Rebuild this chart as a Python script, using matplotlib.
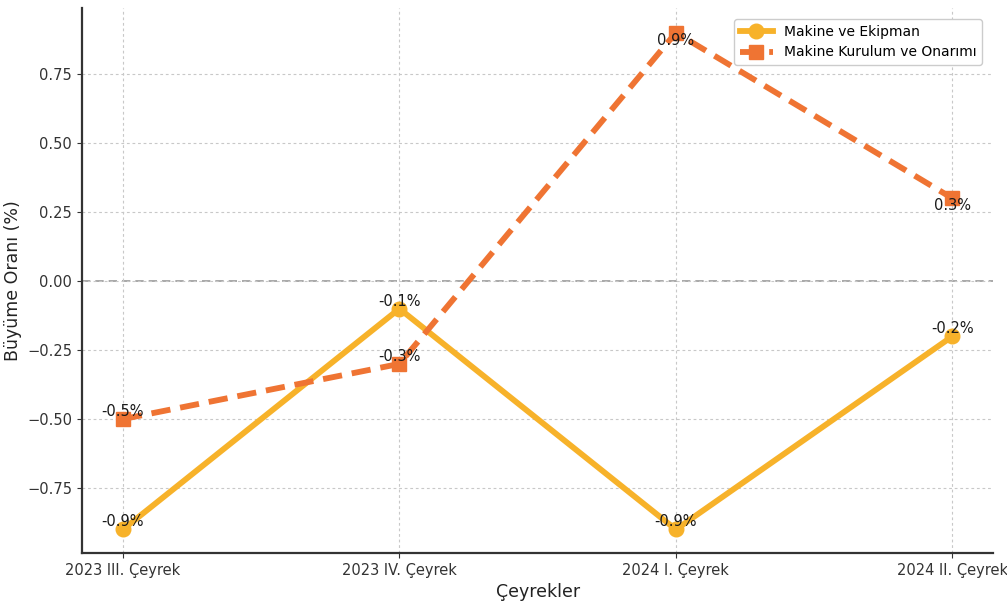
import numpy as np
import matplotlib
matplotlib.use('Agg')
import matplotlib.pyplot as plt

quarters = ['2023 III. Çeyrek', '2023 IV. Çeyrek', '2024 I. Çeyrek', '2024 II. Çeyrek']
ekipman = [-0.9, -0.1, -0.9, -0.2]
kurulum = [-0.5, -0.3, 0.9, 0.3]

c_ekipman = '#F7B22A'
c_kurulum = '#EF7433'

fig = plt.figure(figsize=(10.07, 6.03), dpi=100)
ax = fig.add_axes([0.0814, 0.083, 0.905, 0.904])

x = np.arange(len(quarters))
ax.plot(x, ekipman, color=c_ekipman, lw=4.2, marker='o', ms=10.5, label='Makine ve Ekipman', zorder=3)
ax.plot(x, kurulum, color=c_kurulum, lw=4.2, ls='--', dashes=(3.3, 1.7), marker='s', ms=10,
        label='Makine Kurulum ve Onarımı', zorder=3)

# value labels
for xs, ys in [(x, ekipman), (x, kurulum)]:
    for xi, yi in zip(xs, ys):
        va = 'top' if yi > 0 else 'bottom'
        ax.text(xi, yi, f'{yi}%', ha='center', va=va, fontsize=10.5, color='#1a1a1a', zorder=4)

ax.axhline(0, color='#999999', lw=1.2, ls='--', dashes=(5, 3), zorder=1)

ax.set_xticks(x)
ax.set_xticklabels(quarters)
ax.set_yticks([-0.75, -0.5, -0.25, 0, 0.25, 0.5, 0.75])
ax.set_ylim(-0.985, 0.99)
ax.set_xlim(-0.148, 3.148)
ax.tick_params(labelsize=10.5, colors='#333333')
ax.set_xlabel('Çeyrekler', fontsize=12.5, color='#222222')
ax.set_ylabel('Büyüme Oranı (%)', fontsize=12.5, color='#222222')

ax.grid(True, ls=(0, (2.5, 2.5)), color='#c8c8c8', lw=0.8)
for s in ['top', 'right']:
    ax.spines[s].set_visible(False)
for s in ['left', 'bottom']:
    ax.spines[s].set_linewidth(1.6)
    ax.spines[s].set_color('#333333')

ax.legend(loc='upper right', fontsize=10, handlelength=2.4, framealpha=1, edgecolor='#cccccc',
          borderaxespad=0.8)

fig.savefig('out.png', dpi=100)
